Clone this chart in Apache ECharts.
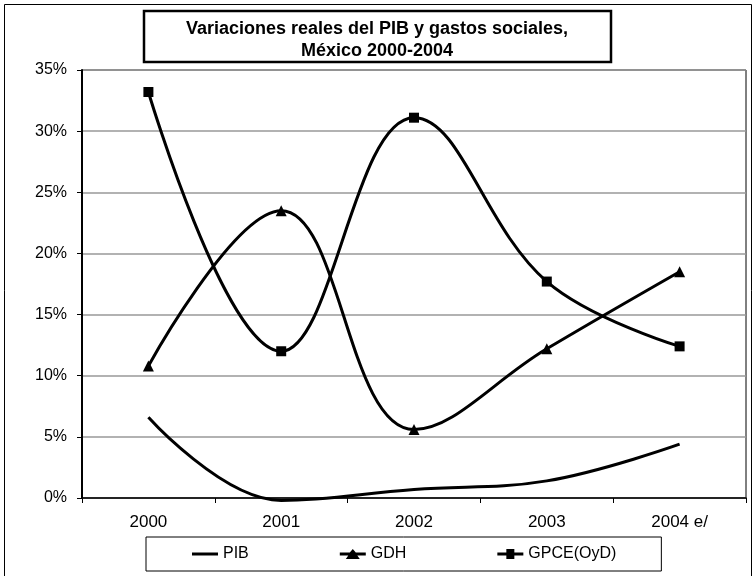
<!DOCTYPE html>
<html lang="es">
<head>
    <meta charset="UTF-8">
    <title>Variaciones reales del PIB y gastos sociales</title>
    <script src="https://cdn.jsdelivr.net/npm/echarts@6/dist/echarts.min.js"></script>
    <style>
        html, body { margin: 0; padding: 0; background: #fff; }
        #chart { width: 754px; height: 576px; }
    </style>
</head>
<body>
<div id="chart"></div>
<script>
    // datos (en %)
    const years = ['2000', '2001', '2002', '2003', '2004 e/'];
    const pib = [6.6, -0.2, 0.7, 1.4, 4.4];
    const gdh = [10.8, 23.5, 5.6, 12.2, 18.5];
    const gpce = [33.2, 12.0, 31.1, 17.7, 12.4];
    const titleLines = ['Variaciones reales del PIB y gastos sociales,', 'México 2000-2004'];

    const font = '"Liberation Sans", Arial, sans-serif';
    // iconos de la leyenda: linea gruesa con o sin marcador
    const iconLine = 'path://M0,3.5H26V6.5H0Z';
    const iconTri = 'path://M0,3.5H10L13,0L16,3.5H26V6.5H17.5L20,10H6L8.5,6.5H0Z';
    const iconRect = 'path://M0,3.5H9V0H17V3.5H26V6.5H17V10H9V6.5H0Z';

    const myChart = echarts.init(document.getElementById('chart'));

    const option = {
        animation: false,
        backgroundColor: '#fff',
        title: {
            text: titleLines.join('\n'),
            left: 'center',
            top: 13,
            textStyle: {
                fontFamily: font,
                fontSize: 18,
                fontWeight: 'bold',
                color: '#000',
                lineHeight: 22,
                align: 'center'
            }
        },
        graphic: [
            {
                type: 'rect',
                shape: { x: 4.5, y: 4.5, width: 747, height: 600 },
                style: { fill: 'none', stroke: '#000', lineWidth: 1 },
                z: -1
            },
            {
                type: 'rect',
                shape: { x: 144, y: 11, width: 467, height: 51 },
                style: { fill: 'none', stroke: '#000', lineWidth: 2.5 }
            }
        ],
        legend: {
            data: [
                { name: 'PIB', icon: iconLine },
                { name: 'GDH', icon: iconTri },
                { name: 'GPCE(OyD)', icon: iconRect }
            ],
            left: 146,
            top: 537,
            padding: [9, 45, 9, 46],
            itemGap: 91,
            itemWidth: 26,
            itemHeight: 10,
            itemTextGap: 3,
            borderColor: '#000',
            borderWidth: 1,
            itemStyle: { color: '#000' },
            textStyle: { fontFamily: font, fontSize: 16, color: '#000' }
        },
        grid: {
            left: 82,
            right: 8,
            top: 70,
            bottom: 78,
            show: true,
            borderColor: '#000',
            borderWidth: 1
        },
        xAxis: {
            type: 'category',
            data: years,
            boundaryGap: true,
            axisLine: { lineStyle: { color: '#000', width: 1.5 } },
            axisTick: { show: true, length: 5, inside: false, lineStyle: { color: '#000' } },
            axisLabel: { fontFamily: font, fontSize: 17, color: '#000', margin: 16 }
        },
        yAxis: {
            type: 'value',
            min: 0,
            max: 35,
            interval: 5,
            axisLine: { show: true, lineStyle: { color: '#000', width: 2 } },
            axisTick: { show: true, length: 5, lineStyle: { color: '#000' } },
            axisLabel: { fontFamily: font, fontSize: 16, color: '#000', margin: 15, formatter: '{value}%' },
            splitLine: { lineStyle: { color: '#999', width: 1.5 } }
        },
        series: [
            {
                name: 'PIB',
                type: 'line',
                data: pib,
                smooth: 0.4,
                clip: false,
                symbol: 'none',
                lineStyle: { color: '#000', width: 3 },
                itemStyle: { color: '#000' }
            },
            {
                name: 'GDH',
                type: 'line',
                data: gdh,
                smooth: 0.4,
                symbol: 'triangle',
                symbolSize: 11,
                lineStyle: { color: '#000', width: 3 },
                itemStyle: { color: '#000' }
            },
            {
                name: 'GPCE(OyD)',
                type: 'line',
                data: gpce,
                smooth: 0.4,
                symbol: 'rect',
                symbolSize: 10,
                lineStyle: { color: '#000', width: 3 },
                itemStyle: { color: '#000' }
            }
        ]
    };
    myChart.setOption(option);
</script>
</body>
</html>
